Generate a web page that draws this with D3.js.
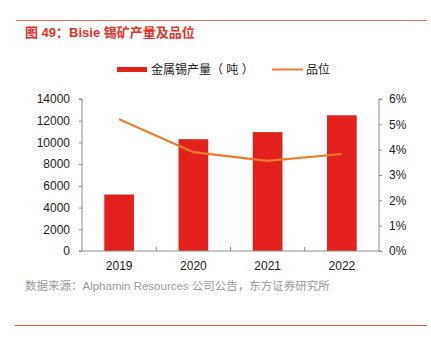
<!DOCTYPE html>
<html>
<head>
<meta charset="utf-8">
<script src="https://cdn.jsdelivr.net/npm/d3@7"></script>
<style>
  body { margin: 0; background: #fff; }
  text { font-family: "Liberation Sans", Arial, "Noto Sans CJK SC", sans-serif; }
</style>
</head>
<body>
<script>
var years = ["2019", "2020", "2021", "2022"];
var tinOutput = [5200, 10300, 10950, 12500];
var grade = [0.052, 0.039, 0.0356, 0.0383];
var leftTicks = [0, 2000, 4000, 6000, 8000, 10000, 12000, 14000];
var rightTicks = [0, 0.01, 0.02, 0.03, 0.04, 0.05, 0.06];

var width = 431, height = 345;
var margin = {top: 99, right: 52, bottom: 94, left: 82};

var svg = d3.select("body")
    .append("svg")
    .attr("width", width)
    .attr("height", height);

// header / footer rules
svg.append("line").attr("x1", 16).attr("x2", 427).attr("y1", 20.5).attr("y2", 20.5)
    .style("stroke", "#ee6b60").style("stroke-width", 1);
svg.append("line").attr("x1", 15).attr("x2", 427).attr("y1", 325.5).attr("y2", 325.5)
    .style("stroke", "#e5533f").style("stroke-width", 1);

svg.append("text")
    .attr("x", 25).attr("y", 37)
    .style("font-size", "13px").style("font-weight", "bold")
    .style("fill", "#e8302a")
    .text("图 49：Bisie 锡矿产量及品位");

svg.append("text")
    .attr("x", 25).attr("y", 290)
    .style("font-size", "11.5px")
    .style("fill", "#9a9a9a")
    .text("数据来源：Alphamin Resources 公司公告，东方证券研究所");

var x = d3.scaleBand()
    .domain(years)
    .range([margin.left, width - margin.right])
    .paddingInner(0.6)
    .paddingOuter(0.3);

var y = d3.scaleLinear()
    .domain([0, 14000])
    .range([height - margin.bottom, margin.top]);

var y2 = d3.scaleLinear()
    .domain([0, 0.06])
    .range([height - margin.bottom, margin.top]);

// bars
svg.append("g")
    .selectAll("rect")
    .data(tinOutput)
    .enter().append("rect")
    .attr("x", function(d, i) { return x(years[i]); })
    .attr("y", function(d) { return y(d); })
    .attr("width", x.bandwidth())
    .attr("height", function(d) { return y(0) - y(d); })
    .style("fill", "#e2211c");

// axes
var axisColor = "#8c8c8c";

var left = svg.append("g")
    .attr("transform", "translate(" + margin.left + ",0)")
    .call(d3.axisLeft(y).tickValues(leftTicks).tickFormat(d3.format("d")).tickSize(3).tickPadding(9));

var right = svg.append("g")
    .attr("transform", "translate(" + (width - margin.right) + ",0)")
    .call(d3.axisRight(y2).tickValues(rightTicks).tickFormat(d3.format(".0%")).tickSize(3).tickPadding(7));

var step = x.step();
var bottom = svg.append("g")
    .attr("transform", "translate(0," + (height - margin.bottom) + ")")
    .call(d3.axisBottom(x).tickSize(0).tickPadding(10));

// category separators
bottom.selectAll(".sep")
    .data(years.slice(1))
    .enter().append("line")
    .attr("class", "sep")
    .attr("x1", function(d) { return x(d) - step * x.paddingInner() / 2; })
    .attr("x2", function(d) { return x(d) - step * x.paddingInner() / 2; })
    .attr("y1", 0).attr("y2", -4)
    .style("stroke", axisColor);

[left, right, bottom].forEach(function(g) {
    g.selectAll(".domain").style("stroke", axisColor);
    g.selectAll(".tick line").style("stroke", axisColor);
    g.selectAll("text").style("font-size", "12px").style("fill", "#222");
});
left.select(".domain").attr("d", "M-3," + y(14000) + "H0V" + y(0) + "H-3");
right.select(".domain").attr("d", "M3," + y2(0.06) + "H0V" + y2(0) + "H3");
bottom.select(".domain").attr("d", "M" + margin.left + ",0H" + (width - margin.right));

// grade line
var line = d3.line()
    .x(function(d, i) { return x(years[i]) + x.bandwidth() / 2; })
    .y(function(d) { return y2(d); });

svg.append("path")
    .datum(grade)
    .attr("d", line)
    .style("fill", "none")
    .style("stroke", "#ef7b30")
    .style("stroke-width", 2.2);

// legend
var legend = svg.append("g");
legend.append("rect")
    .attr("x", 117).attr("y", 67).attr("width", 30).attr("height", 5)
    .style("fill", "#e2211c");
legend.append("text")
    .attr("x", 151).attr("y", 74)
    .style("font-size", "12px").style("fill", "#222")
    .text("金属锡产量（ 吨 ）");
legend.append("line")
    .attr("x1", 272).attr("x2", 303).attr("y1", 69.5).attr("y2", 69.5)
    .style("stroke", "#ef7b30").style("stroke-width", 2);
legend.append("text")
    .attr("x", 306).attr("y", 74)
    .style("font-size", "12px").style("fill", "#222")
    .text("品位");
</script>
</body>
</html>
